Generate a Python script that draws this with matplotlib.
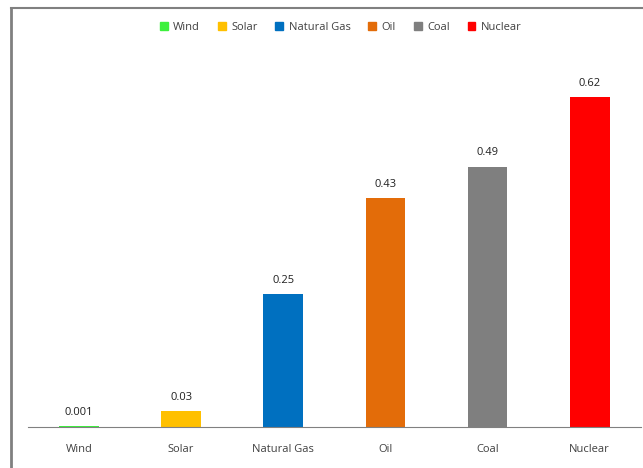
import matplotlib.pyplot as plt
from matplotlib.patches import Patch
from matplotlib.lines import Line2D

plt.rcParams['font.family'] = ['Open Sans', 'DejaVu Sans']

# data
sources = ['Wind', 'Solar', 'Natural Gas', 'Oil', 'Coal', 'Nuclear']
values = [0.001, 0.03, 0.25, 0.43, 0.49, 0.62]
labels = ['0.001', '0.03', '0.25', '0.43', '0.49', '0.62']
colors = ['#3CF03C', '#FFC000', '#0070C0', '#E36C09', '#7F7F7F', '#FF0000']

fig = plt.figure(figsize=(6.43, 4.68), dpi=100)
ax = fig.add_axes([0.0435, 0.0876, 0.953, 0.795])

x = range(len(sources))
bars = ax.bar(x, values, width=0.39, color=colors)

for b, lab in zip(bars, labels):
    ax.annotate(lab, (b.get_x() + b.get_width() / 2, b.get_height()),
                xytext=(0, 6), textcoords='offset points',
                ha='center', va='bottom', fontsize=8, color='#202020')

ax.set_xlim(-0.5, 5.5)
ax.set_ylim(0, 0.7)
ax.set_xticks(list(x))
ax.set_xticklabels(sources, fontsize=8, color='#404040')
ax.tick_params(axis='x', length=0, pad=12)
ax.set_yticks([])
for s in ['top', 'right', 'left']:
    ax.spines[s].set_visible(False)
ax.spines['bottom'].set_color('#808080')

handles = [Patch(color=c, label=s) for s, c in zip(sources, colors)]
fig.legend(handles=handles, loc='center', bbox_to_anchor=(0.53, 0.942),
           ncol=6, frameon=False, fontsize=8, handlelength=0.7,
           handleheight=0.7, handletextpad=0.5, columnspacing=1.6,
           labelcolor='#404040')

# outer frame
fig.add_artist(Line2D([11 / 643, 1], [1 - 8 / 468, 1 - 8 / 468],
                      transform=fig.transFigure, color='#808080', lw=1.5))
fig.add_artist(Line2D([11 / 643, 11 / 643], [0, 1 - 8 / 468],
                      transform=fig.transFigure, color='#808080', lw=2))

fig.savefig('out.png', dpi=100)
